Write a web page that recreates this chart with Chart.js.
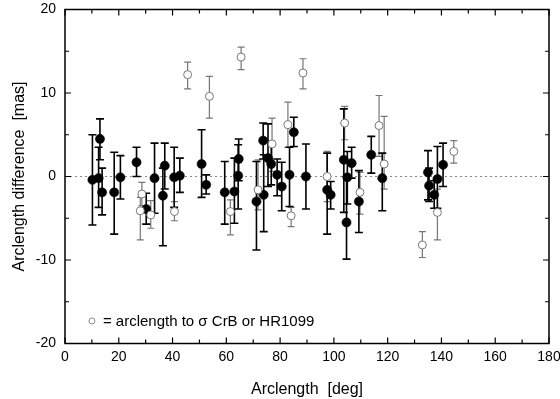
<!DOCTYPE html>
<html><head><meta charset="utf-8">
<script src="https://cdn.jsdelivr.net/npm/chart.js@4/dist/chart.umd.min.js"></script>
<style>html,body{margin:0;padding:0;background:#fff}#wrap{width:560px;height:399px}</style>
</head><body><div id="wrap"><canvas id="c" width="560" height="399"></canvas></div>
<script>
// Filled points: arclength (deg), difference (mas), upper and lower error bar ends
const filledX  = [10.2,12.5,13.0,13.8,18.3,20.6,26.6,30.2,33.3,36.4,37.1,40.6,42.7,50.8,52.5,59.4,63.0,64.4,64.6,71.2,73.7,73.9,75.5,76.7,78.9,80.6,83.5,85.1,89.6,97.5,98.8,103.7,104.7,105.0,106.6,109.3,113.9,118.0,135.0,135.4,137.3,138.5,140.6];
const filledY  = [-0.4,-0.2,4.5,-1.9,-1.9,-0.1,1.7,-3.9,-0.2,-2.3,1.3,-0.1,0.1,1.5,-1.0,-1.9,-1.8,0.1,2.1,-3.0,4.3,-2.2,2.2,1.5,0.2,-1.2,0.2,5.3,0.0,-1.6,-2.2,2.0,-5.5,-0.1,1.6,-3.0,2.6,-0.2,0.5,-1.1,-2.2,-0.3,1.4];
const filledHi = [5.0,3.5,6.9,1.0,2.9,2.5,3.5,-2.0,4.0,1.0,4.0,3.5,2.2,5.6,0.2,1.8,2.2,3.8,4.5,1.8,6.4,2.6,6.3,3.8,2.1,1.7,3.5,7.1,3.9,2.8,-0.6,8.1,0.0,3.0,3.5,0.7,4.8,2.8,3.1,1.0,-0.5,3.6,4.0];
const filledLo = [-5.8,-3.7,2.0,-4.6,-6.9,-2.7,0.0,-5.7,-4.4,-8.3,-1.5,-3.7,-1.9,-2.5,-2.1,-5.7,-5.6,-3.9,-0.5,-8.8,2.1,-6.6,-1.2,-1.0,-2.3,-4.1,-3.6,3.6,-3.9,-6.9,-3.9,-4.3,-9.9,-3.3,-0.2,-6.7,0.4,-4.1,-2.8,-3.0,-3.8,-3.8,-1.2];
// Open points: arclength to sigma CrB or HR1099
const openX  = [28.0,28.6,31.9,40.7,45.6,53.7,61.5,65.5,71.8,77.0,82.9,84.1,88.5,97.5,104.0,109.7,116.8,118.7,132.9,138.5,144.6];
const openY  = [-4.1,-2.1,-4.6,-4.2,12.2,9.6,-4.2,14.3,-1.6,3.9,6.2,-4.7,12.4,0.0,6.4,-1.9,6.1,1.5,-8.2,-4.3,3.0];
const openHi = [-2.5,-0.7,-2.9,-3.0,13.7,12.0,-2.8,15.5,2.0,7.0,8.9,-3.7,14.1,3.0,8.4,0.5,9.7,7.2,-6.6,-1.5,4.3];
const openLo = [-7.6,-3.5,-6.2,-5.3,10.5,7.0,-7.0,12.8,-4.0,0.6,3.5,-6.0,10.5,-3.0,4.4,-4.5,2.4,-1.5,-9.7,-7.6,1.6];
const xTicks = [0,20,40,60,80,100,120,140,160,180];
const yTicks = [-20,-10,0,10,20];
const legendText = '= arclength to σ CrB or HR1099';
const xTitle = 'Arclength  [deg]';
const yTitle = 'Arclength difference  [mas]';

const FONT = '"Liberation Sans", Arial, Helvetica, sans-serif';

const toPts = (xs, ys) => xs.map((x, i) => ({x, y: ys[i]}));

const framePlugin = {
  id: 'frame',
  beforeDatasetsDraw(chart) {
    const {ctx, chartArea: a, scales: {x, y}} = chart;
    ctx.save();
    ctx.strokeStyle = '#888';
    ctx.lineWidth = 1;
    ctx.setLineDash([2, 3]);
    const y0 = y.getPixelForValue(0);
    ctx.beginPath(); ctx.moveTo(a.left, y0); ctx.lineTo(a.right, y0); ctx.stroke();
    ctx.setLineDash([]);
    const drawBars = (xs, his, los, color, lw, cap) => {
      ctx.strokeStyle = color; ctx.lineWidth = lw;
      xs.forEach((xv, i) => {
        const px = x.getPixelForValue(xv);
        const ph = y.getPixelForValue(his[i]);
        const pl = y.getPixelForValue(los[i]);
        ctx.beginPath();
        ctx.moveTo(px, ph); ctx.lineTo(px, pl);
        ctx.moveTo(px - cap, ph); ctx.lineTo(px + cap, ph);
        ctx.moveTo(px - cap, pl); ctx.lineTo(px + cap, pl);
        ctx.stroke();
      });
    };
    drawBars(openX, openHi, openLo, '#777', 1.2, 3.5);
    drawBars(filledX, filledHi, filledLo, '#000', 1.6, 4);
    ctx.restore();
  },
  afterDatasetsDraw(chart) {
    const {ctx, chartArea: a, scales: {x, y}} = chart;
    ctx.save();
    ctx.strokeStyle = '#000';
    ctx.lineWidth = 1.5;
    ctx.strokeRect(a.left, a.top, a.right - a.left, a.bottom - a.top);
    ctx.lineWidth = 1.2;
    ctx.beginPath();
    for (let v = 0; v <= 180; v += 10) {
      const px = x.getPixelForValue(v);
      const len = v % 20 === 0 ? 6 : 4;
      ctx.moveTo(px, a.bottom); ctx.lineTo(px, a.bottom - len);
      ctx.moveTo(px, a.top); ctx.lineTo(px, a.top + len);
    }
    for (let v = -20; v <= 20; v += 5) {
      const py = y.getPixelForValue(v);
      const len = v % 10 === 0 ? 6 : 4;
      ctx.moveTo(a.left, py); ctx.lineTo(a.left + len, py);
      ctx.moveTo(a.right, py); ctx.lineTo(a.right - len, py);
    }
    ctx.stroke();
    // tick labels
    ctx.fillStyle = '#000';
    ctx.font = '14px ' + FONT;
    ctx.textAlign = 'center'; ctx.textBaseline = 'middle';
    xTicks.forEach(v => ctx.fillText(String(v), x.getPixelForValue(v), a.bottom + 14));
    ctx.textAlign = 'right';
    yTicks.forEach(v => ctx.fillText(String(v), a.left - 9, y.getPixelForValue(v)));
    // legend
    const lx = x.getPixelForValue(10), ly = y.getPixelForValue(-17.3);
    ctx.beginPath();
    ctx.arc(lx, ly, 3, 0, Math.PI * 2);
    ctx.fillStyle = '#fff'; ctx.fill();
    ctx.strokeStyle = '#888'; ctx.lineWidth = 1; ctx.stroke();
    ctx.fillStyle = '#000';
    ctx.font = '15px ' + FONT;
    ctx.textAlign = 'left'; ctx.textBaseline = 'middle';
    ctx.fillText(legendText, lx + 11, ly + 1);
    ctx.restore();
  }
};

new Chart(document.getElementById('c'), {
  type: 'scatter',
  data: {
    datasets: [
      { data: toPts(openX, openY), pointRadius: 4, pointBackgroundColor: '#fff',
        pointBorderColor: '#777', pointBorderWidth: 1, showLine: false },
      { data: toPts(filledX, filledY), pointRadius: 4.6, pointBackgroundColor: '#000',
        pointBorderColor: '#000', pointBorderWidth: 0.5, showLine: false }
    ]
  },
  options: {
    responsive: false, animation: false, devicePixelRatio: 1,
    layout: { padding: { left: 0, right: 11, top: 9.5, bottom: 0 } },
    plugins: { legend: { display: false }, tooltip: { enabled: false } },
    scales: {
      x: {
        type: 'linear', min: 0, max: 180,
        afterBuildTicks: s => { s.ticks = xTicks.map(v => ({value: v})); },
        afterFit: s => { s.height = 55.5; },
        grid: { display: false, drawTicks: false },
        border: { display: false },
        ticks: { display: false },
        title: { display: true, text: xTitle, color: '#000', font: { size: 16, family: FONT }, padding: { top: 0, bottom: 0 } }
      },
      y: {
        type: 'linear', min: -20, max: 20,
        afterBuildTicks: s => { s.ticks = yTicks.map(v => ({value: v})); },
        afterFit: s => { s.width = 65; },
        grid: { display: false, drawTicks: false },
        border: { display: false },
        ticks: { display: false },
        title: { display: true, text: yTitle, color: '#000', font: { size: 16, family: FONT }, padding: { top: 10, bottom: 0 } }
      }
    }
  },
  plugins: [framePlugin]
});
</script></body></html>
